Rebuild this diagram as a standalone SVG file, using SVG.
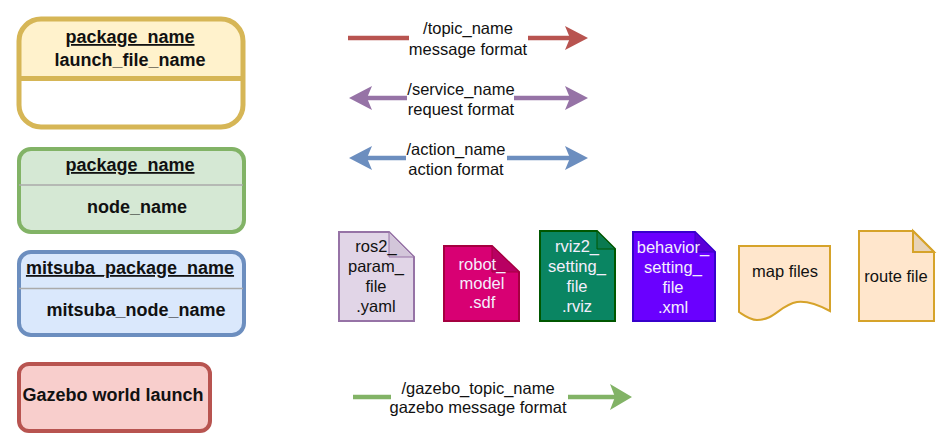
<svg xmlns="http://www.w3.org/2000/svg" width="949" height="448" viewBox="0 0 949 448">
<style>
text{font-family:"Liberation Sans",Arial,sans-serif;text-anchor:middle;fill:#111}
.b{font-weight:bold;font-size:18px}
.u{text-decoration:underline}
.t{font-size:16.500px}
.w{fill:#f4eefc}
.doc{stroke-width:2}
.c{fill:none;stroke-width:4.500}
</style>
<defs>
<marker id="hr" viewBox="0 0 24 24" refX="6" refY="12" markerWidth="24" markerHeight="24" markerUnits="userSpaceOnUse" orient="auto"><path d="M0 0L23 12L0 24L5 12Z" fill="#b85450"/></marker>
<marker id="hp" viewBox="0 0 24 24" refX="6" refY="12" markerWidth="24" markerHeight="24" markerUnits="userSpaceOnUse" orient="auto"><path d="M0 0L23 12L0 24L5 12Z" fill="#9673a6"/></marker>
<marker id="hb" viewBox="0 0 24 24" refX="6" refY="12" markerWidth="24" markerHeight="24" markerUnits="userSpaceOnUse" orient="auto"><path d="M0 0L23 12L0 24L5 12Z" fill="#6c8ebf"/></marker>
<marker id="hg" viewBox="0 0 24 26" refX="6" refY="13" markerWidth="24" markerHeight="26" markerUnits="userSpaceOnUse" orient="auto"><path d="M0 0L22 13L0 26L5 13Z" fill="#82b366"/></marker>
</defs>
<rect width="949" height="448" fill="#fff"/>

<g id="launch-node">
<path d="M19 78.500V41a22 22 0 0 1 22-22H221a22 22 0 0 1 22 22V78.500Z" fill="#fff2cc"/>
<rect x="19" y="19" width="224" height="108" rx="22" fill="none" stroke="#d6b656" stroke-width="5"/>
<line x1="19" y1="78.500" x2="243" y2="78.500" stroke="#d6b656" stroke-width="5"/>
<text class="b u" x="130" y="43">package_name</text>
<text class="b" x="130" y="66">launch_file_name</text>
</g>
<g id="ros-node">
<rect x="19" y="149" width="225" height="83" rx="12" fill="#d5e8d4" stroke="#82b366" stroke-width="4"/>
<line x1="19" y1="185" x2="243" y2="185" stroke="#aaa" stroke-width="1.500"/>
<text class="b u" x="130" y="171">package_name</text>
<text class="b" x="137" y="213">node_name</text>
</g>
<g id="mitsuba-node">
<rect x="19" y="252" width="225" height="83" rx="12" fill="#dae8fc" stroke="#6c8ebf" stroke-width="4"/>
<line x1="19" y1="288.500" x2="243" y2="288.500" stroke="#aaa" stroke-width="1.500"/>
<text class="b u" x="130" y="274">mitsuba_package_name</text>
<text class="b" x="136" y="316">mitsuba_node_name</text>
</g>
<g id="gazebo-node">
<rect x="19" y="364" width="191" height="67" rx="10" fill="#f8cecc" stroke="#b85450" stroke-width="4"/>
<text class="b" x="113" y="401">Gazebo world launch</text>
</g>

<g id="connectors">
<line class="c" x1="348" y1="38" x2="409" y2="38" stroke="#b85450"/>
<line class="c" x1="528" y1="38" x2="571" y2="38" stroke="#b85450" marker-end="url(#hr)"/>
<line class="c" x1="407" y1="98" x2="366" y2="98" stroke="#9673a6" marker-end="url(#hp)"/>
<line class="c" x1="514" y1="98" x2="571" y2="98" stroke="#9673a6" marker-end="url(#hp)"/>
<line class="c" x1="406" y1="158" x2="366" y2="158" stroke="#6c8ebf" marker-end="url(#hb)"/>
<line class="c" x1="507" y1="158" x2="571" y2="158" stroke="#6c8ebf" marker-end="url(#hb)"/>
<line class="c" x1="353" y1="397" x2="391" y2="397" stroke="#82b366"/>
<line class="c" x1="568" y1="397" x2="616" y2="397" stroke="#82b366" marker-end="url(#hg)"/>
</g>

<g id="topic-label"><text class="t" x="468" y="34">/topic_name</text><text class="t" x="468" y="55">message format</text></g>
<g id="service-label"><text class="t" x="461" y="95">/service_name</text><text class="t" x="461" y="115">request format</text></g>
<g id="action-label"><text class="t" x="456" y="155">/action_name</text><text class="t" x="456" y="175">action format</text></g>
<g id="gazebo-label"><text class="t" x="478" y="394">/gazebo_topic_name</text><text class="t" x="478" y="413">gazebo message format</text></g>

<g id="ros2-param">
<path class="doc" d="M339 232H389L414 257V321H339Z" fill="#e1d5e7" stroke="#9673a6"/>
<path d="M389 232V257H414Z" fill="#d3c6da" stroke="#9673a6"/>
<text class="t" x="376" y="252">ros2_</text><text class="t" x="376" y="272">param_</text><text class="t" x="376" y="292">file</text><text class="t" x="376" y="312">.yaml</text>
</g>
<g id="robot-model">
<path class="doc" d="M444 246H492L519 272V321H444Z" fill="#d80073" stroke="#a50040"/>
<path d="M492 246V272H519Z" fill="#b80062" stroke="#a50040"/>
<text class="t w" x="482" y="270">robot_</text><text class="t w" x="482" y="289">model</text><text class="t w" x="482" y="308">.sdf</text>
</g>
<g id="rviz2-setting">
<path class="doc" d="M540 231H597L615 249V321H540Z" fill="#0a8562" stroke="#005700"/>
<path d="M597 231V249H615Z" fill="#0a7a50" stroke="#005700"/>
<text class="t w" x="577" y="252">rviz2_</text><text class="t w" x="577" y="272">setting_</text><text class="t w" x="577" y="292">file</text><text class="t w" x="577" y="312">.rviz</text>
</g>
<g id="behavior-setting">
<path class="doc" d="M633 232H695L715 252V321H633Z" fill="#6a00ff" stroke="#3700cc"/>
<path d="M695 232V252H715Z" fill="#5a00d8" stroke="#3700cc"/>
<text class="t w" x="673" y="253">behavior_</text><text class="t w" x="673" y="273">setting_</text><text class="t w" x="673" y="293">file</text><text class="t w" x="673" y="313">.xml</text>
</g>
<g id="map-files">
<path class="doc" d="M739 246H830V311C815 303 805 301 797 302C780 305 775 320 757 320C750 320 745 316 739 312Z" fill="#ffe6cc" stroke="#d6a32a"/>
<text class="t" x="785" y="277">map files</text>
</g>
<g id="route-file">
<path class="doc" d="M859 231H913L934 252V321H859Z" fill="#ffe6cc" stroke="#d6a32a"/>
<path class="doc" d="M913 231V252H934Z" fill="#e8d3b8" stroke="#d6a32a"/>
<text class="t" x="896" y="282">route file</text>
</g>
</svg>
